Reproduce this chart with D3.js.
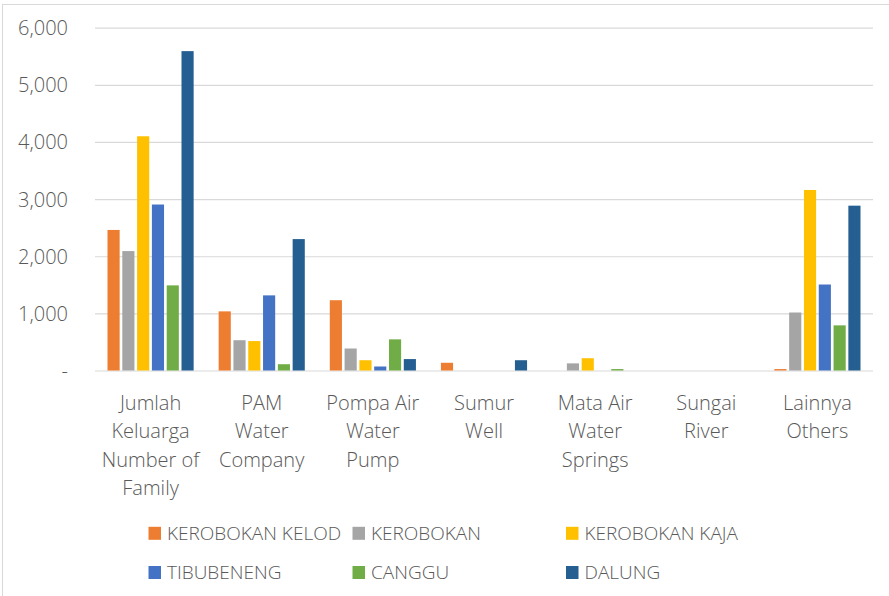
<!DOCTYPE html>
<html>
<head>
<meta charset="utf-8">
<script src="https://cdn.jsdelivr.net/npm/d3@7"></script>
<style>
  body { margin: 0; background: #fff; }
  text { font-family: "Open Sans", "Liberation Sans", sans-serif; font-weight: 300; fill: #595959; }
</style>
</head>
<body>
<div id="container"></div>
<script>
/* DATA */
const categories = ["Jumlah Keluarga", "PAM", "Pompa Air", "Sumur", "Mata Air", "Sungai", "Lainnya"];
const categoryLabels = [
  ["Jumlah", "Keluarga", "Number of", "Family"],
  ["PAM", "Water", "Company"],
  ["Pompa Air", "Water", "Pump"],
  ["Sumur", "Well"],
  ["Mata Air", "Water", "Springs"],
  ["Sungai", "River"],
  ["Lainnya", "Others"]
];
const seriesNames = ["KEROBOKAN KELOD", "KEROBOKAN", "KEROBOKAN KAJA", "TIBUBENENG", "CANGGU", "DALUNG"];
const seriesColors = ["#ED7D31", "#A5A5A5", "#FFC000", "#4472C4", "#70AD47", "#255E91"];

// one array per series, values in category order
const kerobokanKelod = [2460, 1035, 1230, 135, 0, 0, 25];
const kerobokan      = [2090, 530, 385, 0, 125, 0, 1015];
const kerobokanKaja  = [4100, 515, 180, 0, 215, 0, 3160];
const tibubeneng     = [2905, 1315, 70, 0, 0, 0, 1505];
const canggu         = [1490, 110, 545, 0, 25, 0, 790];
const dalung         = [5590, 2300, 200, 180, 0, 0, 2885];
const seriesValues = [kerobokanKelod, kerobokan, kerobokanKaja, tibubeneng, canggu, dalung];

const yTicks = [0, 1000, 2000, 3000, 4000, 5000, 6000];

/* CONSTANTS */
const width = 889, height = 596;
const margin = { top: 27.7, bottom: 225.5, left: 95, right: 16 };

const svg = d3.select("#container")
  .append("svg")
  .attr("width", width)
  .attr("height", height);

// chart area border
svg.append("rect")
  .attr("x", 2.5).attr("y", 4.5)
  .attr("width", width + 10).attr("height", height + 10)
  .attr("fill", "none")
  .attr("stroke", "#d9d9d9");

/* SCALES */
const x0 = d3.scaleBand()
  .domain(categories)
  .range([margin.left, width - margin.right])
  .paddingInner(0.225)
  .paddingOuter(0.1125);

const x1 = d3.scaleBand()
  .domain(seriesNames)
  .range([0, x0.bandwidth()])
  .paddingInner(0.18);

const yScale = d3.scaleLinear()
  .domain([0, 6000])
  .range([height - margin.bottom, margin.top]);

// gridlines
svg.append("g")
  .attr("transform", `translate(${margin.left},0)`)
  .call(d3.axisLeft(yScale).tickValues(yTicks).tickSize(-(width - margin.left - margin.right)).tickFormat(""))
  .call(g => g.select(".domain").remove())
  .call(g => g.selectAll("line").attr("stroke", "#d9d9d9").attr("stroke-width", 1.2));

// y axis labels
const fmt = d3.format(",");
svg.append("g")
  .attr("transform", `translate(${margin.left},0)`)
  .call(d3.axisLeft(yScale).tickValues(yTicks).tickSize(0).tickPadding(27)
    .tickFormat(d => d === 0 ? "-" : fmt(d)))
  .call(g => g.select(".domain").remove())
  .call(g => g.selectAll("text")
    .attr("fill", "#595959")
    .style("font-size", "20px")
    .attr("dy", "0.35em"));

/* BARS */
const groups = svg.selectAll(".group")
  .data(categories)
  .join("g")
  .attr("class", "group")
  .attr("transform", d => `translate(${x0(d)},0)`);

groups.selectAll("rect")
  .data((c, ci) => seriesNames.map((s, si) => ({ s, v: seriesValues[si][ci], color: seriesColors[si] })))
  .join("rect")
  .attr("x", d => x1(d.s))
  .attr("width", x1.bandwidth())
  .attr("y", d => yScale(d.v))
  .attr("height", d => yScale(0) - yScale(d.v))
  .attr("fill", d => d.color);

/* CATEGORY LABELS */
svg.selectAll(".xlabel")
  .data(categories)
  .join("text")
  .attr("class", "xlabel")
  .attr("text-anchor", "middle")
  .style("font-size", "20px")
  .attr("x", d => x0(d) + x0.bandwidth() / 2)
  .attr("y", 410)
  .each(function(d, i) {
    d3.select(this).selectAll("tspan")
      .data(categoryLabels[i])
      .join("tspan")
      .attr("x", x0(d) + x0.bandwidth() / 2)
      .attr("dy", (t, j) => j === 0 ? 0 : 28.3)
      .text(t => t);
  });

/* LEGEND */
const legendCols = [148.5, 352.5, 566];
const legendRows = [533.3, 572.5];
const legend = svg.selectAll(".legend")
  .data(seriesNames)
  .join("g")
  .attr("class", "legend")
  .attr("transform", (d, i) => `translate(${legendCols[i % 3]},${legendRows[Math.floor(i / 3)]})`);

legend.append("rect")
  .attr("x", 0).attr("y", -6.5)
  .attr("width", 12.5).attr("height", 13)
  .attr("fill", (d, i) => seriesColors[i]);

legend.append("text")
  .attr("x", 18.5)
  .attr("dy", "0.36em")
  .style("font-size", "19px")
  .text(d => d);
</script>
</body>
</html>
